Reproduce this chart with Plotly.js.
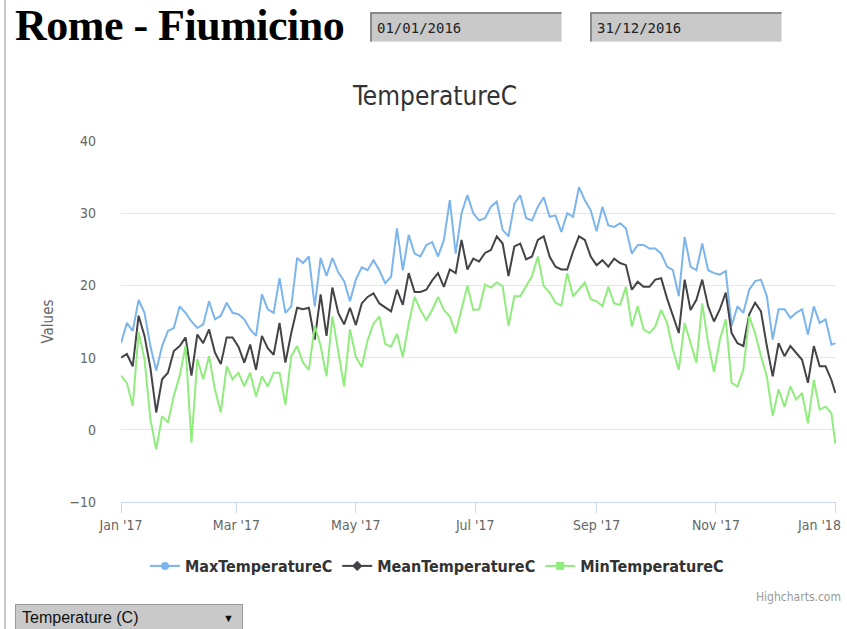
<!DOCTYPE html>
<html>
<head>
<meta charset="utf-8">
<script src="https://cdn.plot.ly/plotly-3.0.1.min.js"></script>
<style>
  html, body { margin: 0; padding: 0; background: #fff; width: 847px; height: 629px; overflow: hidden; }
  #chart { position: absolute; left: 0; top: 0; width: 847px; height: 629px; }
  #leftline { position: absolute; left: 4px; top: 0; width: 2px; height: 629px; background: #c8c8c8; z-index: 3; }
  h1 { position: absolute; left: 15px; top: 0px; margin: 0; font-family: "Liberation Serif", "Times New Roman", serif; font-weight: bold; font-size: 44px; color: #000; z-index: 3; letter-spacing: -0.5px; }
  .datebox { position: absolute; top: 12px; height: 30px; width: 192px; background: #c9c9c9; border-top: 2px solid #8a8a8a; border-left: 2px solid #8a8a8a; border-bottom: 1px solid #e0e0e0; border-right: 1px solid #e0e0e0; font-family: "DejaVu Sans Mono", "Liberation Mono", monospace; font-size: 14px; line-height: 28px; padding-left: 5px; box-sizing: border-box; color: #222; z-index: 3; }
  #sel { position: absolute; left: 15px; top: 604px; width: 228px; height: 28px; background: #c9c9c9; border: 1px solid #9a9a9a; box-sizing: border-box; font-family: "Liberation Sans", Arial, sans-serif; font-size: 16px; line-height: 26px; padding-left: 6px; color: #111; z-index: 3; }
  #sel span { position: absolute; right: 8px; top: 0; font-size: 11px; }
</style>
</head>
<body>
<div id="chart"></div>
<div id="leftline"></div>
<h1>Rome - Fiumicino</h1>
<div class="datebox" style="left:370px">01/01/2016</div>
<div class="datebox" style="left:590px">31/12/2016</div>
<div id="sel">Temperature (C)<span>&#9660;</span></div>
<script>
// Series names
const seriesNames = ["MaxTemperatureC", "MeanTemperatureC", "MinTemperatureC"];
const startDate = "2017-01-01";
const stepDays = 3;      // readings every 3 days
const lastDay = 365;     // final reading on 2018-01-01

// X-axis ticks (every two months)
const tickDates = ["2017-01-01", "2017-03-01", "2017-05-01", "2017-07-01", "2017-09-01", "2017-11-01", "2018-01-01"];
const tickLabels = ["Jan '17", "Mar '17", "May '17", "Jul '17", "Sep '17", "Nov '17", "Jan '18"];

const maxTemp = [12, 14.8, 13.7, 18, 16.2, 11.6, 8.2, 11.6, 13.7, 14.1, 17.1, 16.2, 15, 14.1, 14.6, 17.8, 15.3, 15.8, 17.6, 16.2, 16,
  15.3, 13.9, 13, 18.75, 16.7, 16.2, 21, 16.2, 17.1, 23.8, 23.1, 24, 17.1, 23.8, 21.3, 23.8, 21.8, 20.6, 17.8, 20.8,
  22.5, 22.1, 23.5, 22.1, 20.3, 21.2, 27.9, 22.1, 27, 24.4, 24, 25.6, 26, 24, 26.3, 31.8, 24.4, 30, 32.5, 30,
  29, 29.3, 30.9, 31.6, 27.7, 26.8, 31.3, 32.5, 29.3, 29, 30.9, 32.2, 29.5, 29.7, 27.4, 30, 29.5, 33.6, 31.8, 30.4, 27.5,
  30.9, 28.3, 28.1, 28.6, 27.9, 24.4, 25.6, 25.6, 25.1, 25.1, 24.4, 22.6, 22.1, 18.5, 26.7, 22.6, 22.1, 25.8, 22.1, 21.7,
  21.5, 22, 14.4, 17.1, 16.2, 19.4, 20.6, 20.8, 18.5, 12.5, 16.7, 16.7, 15.5, 16.2, 16.7, 13.2, 17.1, 14.8, 15.3, 11.8, 12];

const meanTemp = [10, 10.5, 8.8, 15.8, 13, 8.6, 2.4, 7, 7.9, 10.9, 11.6, 12.8, 7.5, 13.2, 12, 13.9, 10.7, 9.1, 12.8, 12.8, 11.5,
  9.3, 11.8, 8.3, 13, 11.3, 10.4, 14.8, 9.3, 13.4, 16.9, 16.7, 16.9, 12.5, 18.75, 13, 19.7, 16.2, 14.6, 16.9, 14.5,
  17.5, 18.4, 18.9, 17.5, 17, 16.4, 19.4, 17.3, 21.7, 19.1, 19.1, 19.4, 20.7, 21.7, 19.8, 22.2, 21.7, 26.3, 22.2, 23.7,
  23.3, 24.5, 24.9, 26.8, 25.8, 21.3, 25.4, 25.8, 23.6, 24, 26.3, 26.8, 24, 22.6, 22.2, 22.2, 24.7, 26.8, 26.3, 24, 22.8,
  23.5, 22.6, 23.7, 23.1, 22.8, 19.4, 20.5, 19.8, 19.8, 20.8, 21, 18.2, 15.7, 13.4, 20.8, 16.6, 18, 20.8, 17.1, 15,
  16.7, 19, 13.4, 12, 11.6, 16, 17.6, 16.4, 11.6, 7.4, 12, 10.2, 11.6, 10.6, 9.7, 6.5, 11.6, 8.8, 8.8, 6.9, 5.1];

const minTemp = [7.5, 6.5, 3.3, 13.5, 9.8, 1.5, -2.7, 1.9, 1, 4.7, 7.5, 11.6, -1.8, 9.8, 7, 10.2, 5.6, 2.4, 8.8, 7, 7.9,
  6, 7.9, 4.6, 7.4, 6, 7.9, 7.9, 3.5, 10.2, 11.6, 9.3, 8.3, 14.4, 11.6, 7.4, 15.7, 11.1, 6, 13.9, 10.1,
  8.7, 12.4, 14.7, 15.7, 11.9, 11.5, 13.3, 10.1, 14.7, 18.4, 16.6, 15.2, 16.6, 18.4, 16.6, 15.7, 13.4, 16.6, 20, 16.6,
  16.7, 20.1, 19.7, 20.4, 19.9, 14.4, 18.5, 18.5, 19.9, 21.3, 24, 19.9, 19, 17.6, 17.2, 21.7, 18.5, 19.5, 20.4, 18.1, 17.8,
  17.1, 19.8, 17.5, 17.3, 19.8, 14.3, 17.1, 13.9, 13.4, 14.3, 16.6, 14.8, 11.1, 8.3, 14.8, 12, 9.3, 17.5, 12, 8,
  12.5, 15.3, 6.5, 6, 8.3, 15.7, 13.4, 10.2, 7.4, 1.9, 5.6, 3.2, 6, 4.2, 5.1, 0.9, 6.9, 2.8, 3.2, 2.3, -1.9];

const seriesValues = [maxTemp, meanTemp, minTemp];
const seriesColors = ["#7cb5ec", "#434348", "#90ed7d"];
const legendSymbols = ["circle", "diamond", "square"];

function dayToDate(d) {
  const t = new Date(startDate + "T00:00:00Z");
  t.setUTCDate(t.getUTCDate() + d);
  return t.toISOString().slice(0, 10);
}
const dates = maxTemp.map((_, i) => dayToDate(i === maxTemp.length - 1 ? lastDay : i * stepDays));

const FONT = '"DejaVu Sans Condensed", "Liberation Sans", Arial, sans-serif';

const traces = [];
seriesValues.forEach((vals, k) => {
  traces.push({
    x: dates, y: vals, type: "scatter", mode: "lines",
    name: seriesNames[k], legendgroup: seriesNames[k], showlegend: false,
    line: { color: seriesColors[k], width: 2 }, hoverinfo: "x+y"
  });
});
seriesValues.forEach((vals, k) => {
  traces.push({
    x: [null], y: [null], type: "scatter", mode: "lines+markers",
    name: seriesNames[k], legendgroup: seriesNames[k], showlegend: true,
    line: { color: seriesColors[k], width: 2 },
    marker: { color: seriesColors[k], size: 8, symbol: legendSymbols[k] }
  });
});

// last tick label is placed right-aligned (as Highcharts does) so it stays inside the page
const axisTickText = tickLabels.map((t, i) => (i === tickLabels.length - 1 ? "" : t));

const layout = {
  width: 847, height: 629,
  margin: { l: 121, r: 11, t: 141, b: 127 },
  paper_bgcolor: "rgba(0,0,0,0)", plot_bgcolor: "rgba(0,0,0,0)",
  font: { family: FONT, color: "#666" },
  title: { text: "TemperatureC", x: 435 / 847, xanchor: "center", y: 1 - 96 / 629, yanchor: "middle", yref: "container",
           font: { family: FONT, size: 26, color: "#333" } },
  xaxis: {
    type: "date", range: [dates[0], "2018-01-01 08:00"],
    tickmode: "array", tickvals: tickDates, ticktext: axisTickText, ticklabeloverflow: "allow",
    ticks: "outside", ticklen: 10, tickcolor: "#ccd6eb", tickwidth: 1,
    showline: true, linecolor: "#ccd6eb", linewidth: 1,
    showgrid: false, zeroline: false,
    tickfont: { family: FONT, size: 14, color: "#666" }
  },
  yaxis: {
    range: [-10, 40], dtick: 10, tick0: 0,
    showgrid: true, gridcolor: "#e6e6e6", gridwidth: 1, zeroline: false,
    showline: false, ticks: "", ticklabelstandoff: 24,
    tickfont: { family: FONT, size: 14, color: "#666" }
  },
  showlegend: true,
  legend: {
    orientation: "h", x: (437 - 121) / 715, xanchor: "center", y: (502 - 566) / 361, yanchor: "middle",
    font: { family: FONT, size: 16, color: "#333", weight: "bold" },
    itemwidth: 30, bgcolor: "rgba(0,0,0,0)"
  },
  annotations: [
    { text: "Values", xref: "paper", yref: "paper", x: (47 - 121) / 715, y: 0.5, textangle: -90,
      showarrow: false, xanchor: "center", yanchor: "middle", font: { family: FONT, size: 15, color: "#666" } },
    { text: "Highcharts.com", xref: "paper", yref: "paper", x: (843 - 121) / 715, y: (502 - 597) / 361,
      showarrow: false, xanchor: "right", yanchor: "middle", font: { family: FONT, size: 12, color: "#999" } },
    { text: tickLabels[tickLabels.length - 1], xref: "paper", yref: "paper", x: (843 - 121) / 715, y: (502 - 525) / 361,
      showarrow: false, xanchor: "right", yanchor: "middle", font: { family: FONT, size: 14, color: "#666" } }
  ]
};

Plotly.newPlot("chart", traces, layout, { displayModeBar: false, staticPlot: true });
</script>
</body>
</html>
